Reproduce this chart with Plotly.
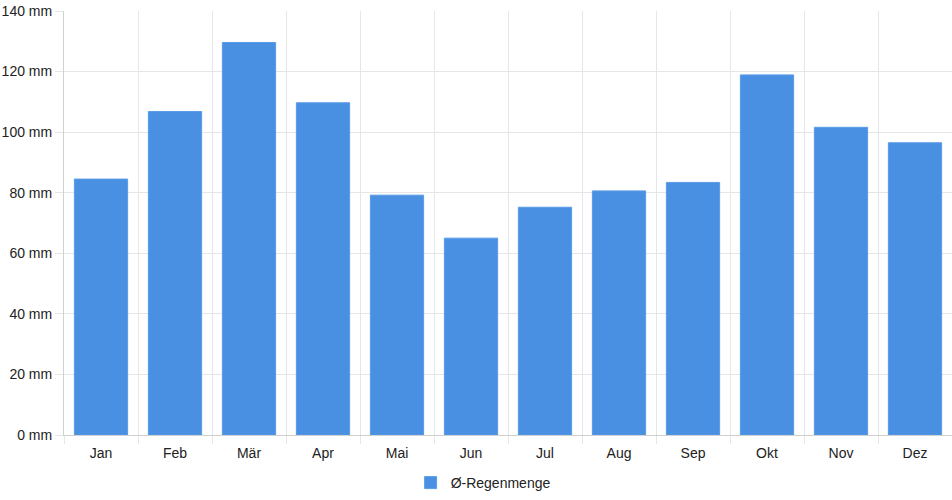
import plotly.graph_objects as go

# Monatliche Regenmenge
monate = ["Jan", "Feb", "Mär", "Apr", "Mai", "Jun", "Jul", "Aug", "Sep", "Okt", "Nov", "Dez"]
regen = [84.5, 106.8, 129.6, 109.7, 79.2, 65.0, 75.2, 80.6, 83.4, 118.9, 101.6, 96.5]
serie = "Ø-Regenmenge"

fig = go.Figure()
fig.add_trace(go.Bar(x=monate, y=regen, name=serie,
                     marker=dict(color="#4a90e2", line=dict(color="#5a9be6", width=1)),
                     showlegend=True))

fig.update_layout(
    width=952, height=500,
    margin=dict(l=64, r=0, t=11, b=65, autoexpand=False),
    paper_bgcolor="white", plot_bgcolor="white",
    font=dict(family="Liberation Sans, Arial, sans-serif", size=14, color="#222"),
    bargap=0.28,
    legend=dict(orientation="h", x=0.472, xanchor="center", y=-0.0755, yanchor="top",
                font=dict(size=14)),
)
fig.update_xaxes(tickson="boundaries", showgrid=True, gridcolor="#e6e6e6",
                 showline=True, linecolor="#d0d0d0", ticks="outside",
                 ticklen=8, tickcolor="#e6e6e6", ticklabelstandoff=5,
                 automargin=False)
fig.update_yaxes(range=[0, 140], dtick=20, ticksuffix=" mm", showgrid=True,
                 gridcolor="#e6e6e6", showline=True, linecolor="#d0d0d0",
                 ticks="outside", ticklen=8, tickcolor="#e6e6e6", zeroline=False,
                 automargin=False)

# Seitenrand des Browsers weg, damit das Diagramm bei 0,0 anfängt
fig.write_html("out.html", config={"displayModeBar": False},
               post_script="document.body.style.margin='0';")
